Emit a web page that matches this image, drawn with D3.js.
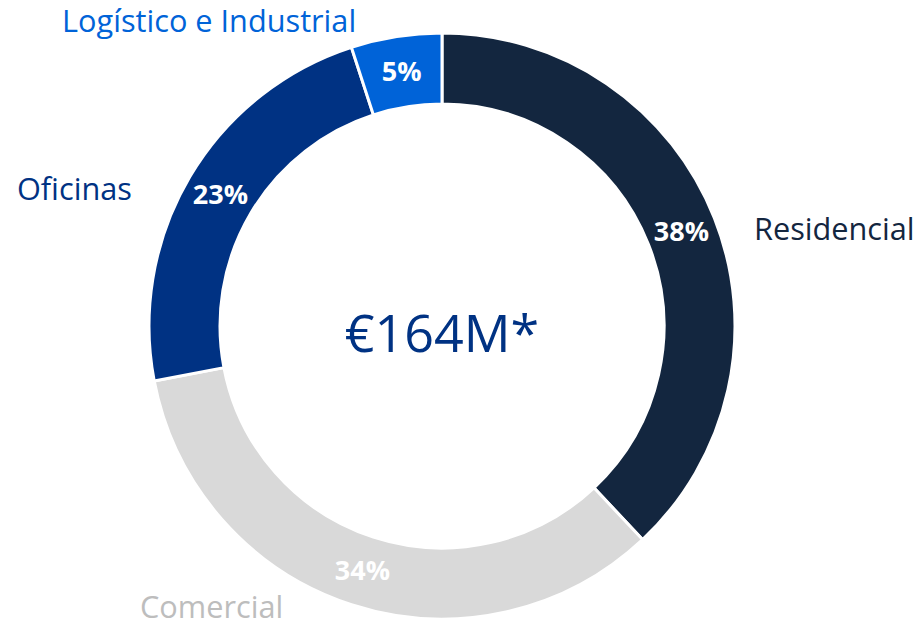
<!DOCTYPE html>
<html><head><meta charset="utf-8">
<script src="https://cdn.jsdelivr.net/npm/d3@7"></script>
<style>html,body{margin:0;padding:0;background:#fff;}svg{display:block;font-family:"Open Sans",sans-serif;}</style>
</head><body>
<svg id="c" width="920" height="627"></svg>
<script>
const categories = ["Residencial", "Comercial", "Oficinas", "Logístico e Industrial"];
const values = [38, 34, 23, 5];
const pctLabels = ["38%", "34%", "23%", "5%"];
const colors = ["#13263f", "#d9d9d9", "#003283", "#0063d8"];
const labelColors = ["#13263f", "#bdbdbd", "#003283", "#0063d8"];
const centerText = "€164M*";

const svg = d3.select("#c");
const cx = 442, cy = 326, R = 293, r = 222;
const g = svg.append("g").attr("transform", `translate(${cx},${cy})`);
const data = categories.map((c, i) => ({cat: c, value: values[i], pct: pctLabels[i], color: colors[i], lc: labelColors[i]}));
const pie = d3.pie().value(d => d.value).sort(null);
const arcs = pie(data);
const arc = d3.arc().innerRadius(r).outerRadius(R);
const mid = d3.arc().innerRadius((R + r) / 2).outerRadius((R + r) / 2);

g.selectAll("path").data(arcs).enter().append("path")
  .attr("d", arc).attr("fill", d => d.data.color)
  .attr("stroke", "#fff").attr("stroke-width", 3);

g.selectAll("text.pct").data(arcs).enter().append("text")
  .attr("class", "pct")
  .attr("x", d => mid.centroid(d)[0])
  .attr("y", d => mid.centroid(d)[1])
  .attr("dy", "0.35em")
  .attr("text-anchor", "middle")
  .attr("fill", "#fff").attr("font-weight", 700).attr("font-size", 27)
  .text(d => d.data.pct);

// outer category labels
const labelPos = {
  "Residencial": {x: 754, y: 240, anchor: "start"},
  "Comercial": {x: 140, y: 618, anchor: "start"},
  "Oficinas": {x: 17, y: 200, anchor: "start"},
  "Logístico e Industrial": {x: 62, y: 32, anchor: "start"}
};
svg.selectAll("text.cat").data(data).enter().append("text")
  .attr("class", "cat")
  .attr("x", d => labelPos[d.cat].x)
  .attr("y", d => labelPos[d.cat].y)
  .attr("text-anchor", d => labelPos[d.cat].anchor)
  .attr("fill", d => d.lc).attr("font-size", 30.7)
  .text(d => d.cat);

svg.append("text").attr("x", cx).attr("y", 352).attr("text-anchor", "middle")
  .attr("fill", "#003283").attr("font-size", 52).text(centerText);
</script>
</body></html>
